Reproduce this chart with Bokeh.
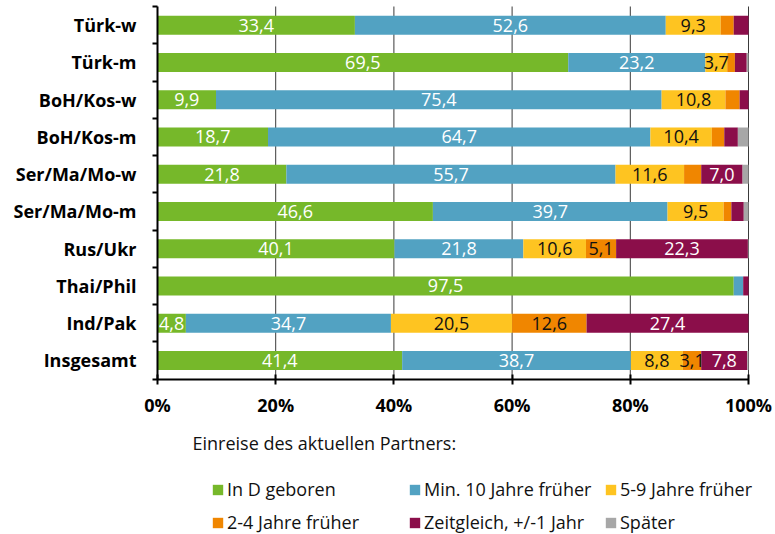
from bokeh.plotting import figure
from bokeh.models import ColumnDataSource, FixedTicker, Legend, LegendItem, Label, Range1d
from bokeh.core.properties import value
from bokeh.embed import file_html
from bokeh.resources import INLINE

# ---------------- data ----------------
categories = ["Türk-w", "Türk-m", "BoH/Kos-w", "BoH/Kos-m", "Ser/Ma/Mo-w",
              "Ser/Ma/Mo-m", "Rus/Ukr", "Thai/Phil", "Ind/Pak", "Insgesamt"]
in_d_geboren = [33.4, 69.5, 9.9, 18.7, 21.8, 46.6, 40.1, 97.5, 4.8, 41.4]
min_10_jahre = [52.6, 23.2, 75.4, 64.7, 55.7, 39.7, 21.8, 1.6, 34.7, 38.7]
jahre_5_9 = [9.3, 3.7, 10.8, 10.4, 11.6, 9.5, 10.6, 0.0, 20.5, 8.8]
jahre_2_4 = [2.2, 1.3, 2.4, 2.1, 2.9, 1.3, 5.1, 0.0, 12.6, 3.1]
zeitgleich = [2.5, 2.0, 1.5, 2.3, 7.0, 2.1, 22.3, 0.9, 27.4, 7.8]
spaeter = [0.0, 0.3, 0.0, 1.8, 1.0, 0.8, 0.1, 0.0, 0.0, 0.2]

series_names = ["In D geboren", "Min. 10 Jahre früher", "5-9 Jahre früher",
                "2-4 Jahre früher", "Zeitgleich, +/-1 Jahr", "Später"]
x_ticks = [0, 20, 40, 60, 80, 100]
x_tick_labels = ["0%", "20%", "40%", "60%", "80%", "100%"]
legend_title = "Einreise des aktuellen Partners:"

# ---------------- styles / layout ----------------
colors = ["#76B82A", "#52A2C2", "#FEC421", "#F08600", "#8B0E4A", "#A7A7A7"]
label_colors = ["white", "white", "#111111", "#111111", "white", None]
FONT = "Open Sans"
W, H = 775, 534
ROW_PX = 37.26          # pixel height of one category row
TOP_PX = 6              # top of the bar area
LEFT_PX, RIGHT_PX = 157, 748   # pixel positions of 0% and 100%

series = [in_d_geboren, min_10_jahre, jahre_5_9, jahre_2_4, zeitgleich, spaeter]
keys = ["s%d" % i for i in range(len(series))]
n = len(categories)
pos = [n - 1 - i for i in range(n)]
y_top_bar = n - 0.5
y_bottom = -0.5
y_end = y_top_bar + TOP_PX / ROW_PX
y_start = y_top_bar - (H - TOP_PX) / ROW_PX
x_lo, x_hi = x_ticks[0], x_ticks[-1]
px_per_unit = (RIGHT_PX - LEFT_PX) / (x_hi - x_lo)
x_start = x_lo - LEFT_PX / px_per_unit
x_end = x_hi + (W - RIGHT_PX) / px_per_unit

data = {"pos": pos, "cat": categories}
for k, vals in zip(keys, series):
    data[k] = vals
source = ColumnDataSource(data)

p = figure(width=W, height=H, x_range=Range1d(x_start, x_end),
           y_range=Range1d(y_start, y_end),
           output_backend="svg", toolbar_location=None,
           min_border_left=0, min_border_right=0,
           min_border_top=0, min_border_bottom=0)
p.outline_line_color = None
p.background_fill_color = "white"
p.border_fill_color = "white"
p.xgrid.grid_line_color = None
p.ygrid.grid_line_color = None

# vertical grid lines, limited to the bar area
gx = x_ticks[1:]
p.segment(x0=gx, x1=gx, y0=[y_bottom] * len(gx), y1=[y_top_bar] * len(gx),
          line_color="#3a3a3a", line_width=1)

renderers = p.hbar_stack(keys, y="pos", height=0.51, color=colors,
                         source=source, line_color=None)

# data labels
lx, ly, lt, lc = [], [], [], []
for i in range(n):
    left = 0.0
    for s, vals in enumerate(series):
        v = vals[i]
        if v >= 3 and label_colors[s] is not None:
            lx.append(left + v / 2)
            ly.append(pos[i])
            lt.append(("%.1f" % v).replace(".", ","))
            lc.append(label_colors[s])
        left += v
lsrc = ColumnDataSource(dict(x=lx, y=ly, t=lt, c=lc))
p.text(x="x", y="y", text="t", text_color="c", source=lsrc,
       text_align="center", text_baseline="middle",
       text_font=value(FONT), text_font_size="18px")

# x axis, pinned to the bottom of the bar area
xa = p.xaxis[0]
xa.fixed_location = y_bottom
xa.bounds = (x_lo, x_hi)
xa.ticker = FixedTicker(ticks=x_ticks)
xa.major_label_overrides = dict(zip(x_ticks, x_tick_labels))
xa.axis_line_color = "black"
xa.axis_line_width = 2
xa.major_tick_line_color = "black"
xa.major_tick_line_width = 2
xa.major_tick_in = 5
xa.major_tick_out = 5
xa.minor_tick_line_color = None
xa.major_label_text_font = FONT
xa.major_label_text_font_style = "bold"
xa.major_label_text_font_size = "18px"
xa.major_label_text_color = "black"
xa.major_label_standoff = 9

# y axis, pinned to 0 %
ya = p.yaxis[0]
ya.fixed_location = x_lo
ya.bounds = (y_bottom, y_top_bar)
ya.ticker = FixedTicker(ticks=pos, minor_ticks=[k - 0.5 for k in range(n + 1)])
ya.major_label_overrides = {pp: c for pp, c in zip(pos, categories)}
ya.axis_line_color = "black"
ya.axis_line_width = 2
ya.major_tick_in = 0
ya.major_tick_out = 0
ya.minor_tick_in = 0
ya.minor_tick_out = 5
ya.minor_tick_line_color = "black"
ya.minor_tick_line_width = 2
ya.major_label_text_font = FONT
ya.major_label_text_font_style = "bold"
ya.major_label_text_font_size = "18px"
ya.major_label_text_color = "black"
ya.major_label_standoff = 16

# legend title
p.add_layout(Label(x=192, y=92, x_units="screen", y_units="screen",
                   text=legend_title, text_font=FONT, text_font_size="18px",
                   text_color="#111111", text_baseline="middle"))

# legends (three columns of two rows)
items = [LegendItem(label=nm, renderers=[r]) for nm, r in zip(series_names, renderers)]
columns = [(211, [items[0], items[3]]), (408, [items[1], items[4]]), (604, [items[2], items[5]])]
for xoff, its in columns:
    leg = Legend(items=its, location=(xoff, 0), orientation="vertical",
                 glyph_width=13, glyph_height=13, label_height=18, spacing=9,
                 padding=0, margin=0, border_line_color=None,
                 background_fill_alpha=0, label_standoff=3,
                 label_text_font=FONT, label_text_font_size="18px",
                 label_text_color="#111111")
    p.add_layout(leg)

open("out.html", "w").write(file_html(p, INLINE))
